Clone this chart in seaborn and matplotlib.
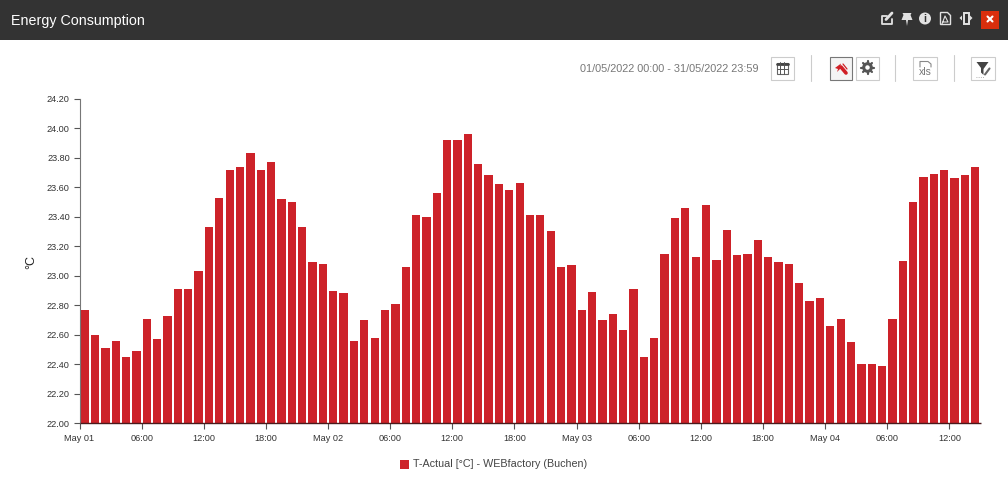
import matplotlib
matplotlib.use('Agg')
import matplotlib.pyplot as plt
from matplotlib.patches import Rectangle, Circle, Polygon
import numpy as np
import seaborn as sns

temps = [22.77, 22.60, 22.51, 22.56, 22.45, 22.49, 22.71, 22.57, 22.73, 22.91, 22.91, 23.03,
         23.33, 23.53, 23.72, 23.74, 23.83, 23.72, 23.77, 23.52, 23.50, 23.33, 23.09, 23.08,
         22.90, 22.88, 22.56, 22.70, 22.58, 22.77, 22.81, 23.06, 23.41, 23.40, 23.56, 23.92,
         23.92, 23.96, 23.76, 23.68, 23.62, 23.58, 23.63, 23.41, 23.41, 23.30, 23.06, 23.07,
         22.77, 22.89, 22.70, 22.74, 22.63, 22.91, 22.45, 22.58, 23.15, 23.39, 23.46, 23.13,
         23.48, 23.11, 23.31, 23.14, 23.15, 23.24, 23.13, 23.09, 23.08, 22.95, 22.83, 22.85,
         22.66, 22.71, 22.55, 22.40, 22.40, 22.39, 22.71, 23.10, 23.50, 23.67, 23.69, 23.72,
         23.66, 23.68, 23.74]
tick_hours = [0, 6, 12, 18, 24, 30, 36, 42, 48, 54, 60, 66, 72, 78, 84]
tick_labels = ['May 01', '06:00', '12:00', '18:00', 'May 02', '06:00', '12:00', '18:00',
               'May 03', '06:00', '12:00', '18:00', 'May 04', '06:00', '12:00']
y_ticks = [22.0, 22.2, 22.4, 22.6, 22.8, 23.0, 23.2, 23.4, 23.6, 23.8, 24.0, 24.2]
series_name = 'T-Actual [°C] - WEBfactory (Buchen)'
date_range = '01/05/2022 00:00 - 31/05/2022 23:59'

W, H = 1008, 480
RED = '#cd2229'
ICON = '#e2e2e2'
sns.set_theme(style='white')
plt.rcParams['font.family'] = ['Liberation Sans', 'DejaVu Sans']

fig = plt.figure(figsize=(W / 100, H / 100), dpi=100, facecolor='white')
ax = fig.add_axes([79.5 / W, 1 - 423.3 / H, 901 / W, 324.6 / H])

hours = np.arange(len(temps)) + 0.5
sns.barplot(x=hours, y=temps, native_scale=True, width=0.8, color=RED, saturation=1,
            linewidth=0, ax=ax)
ax.set_xlim(0, 87)
ax.set_ylim(22, 24.2)
ax.set_xticks(tick_hours)
ax.set_xticklabels(tick_labels)
ax.set_yticks(y_ticks)
ax.set_yticklabels(['%.2f' % v for v in y_ticks])
ax.tick_params(axis='both', labelsize=6.6, length=4, width=0.8, color='#555555',
               labelcolor='#333333', pad=3, bottom=True, left=True)
ax.tick_params(axis='x', pad=3.5)
ax.set_ylabel('°C', fontsize=9, color='#222222')
ax.yaxis.set_label_coords(-0.047, 0.497)
for side in ['top', 'right']:
    ax.spines[side].set_visible(False)
ax.spines['left'].set_color('#777777')
ax.spines['left'].set_linewidth(0.8)
ax.spines['bottom'].set_color('#4a1a1c')
ax.spines['bottom'].set_linewidth(1.0)
ax.spines['bottom'].set_capstyle('butt')

# page furniture, drawn in pixel coordinates
ui = fig.add_axes([0, 0, 1, 1], zorder=5)
ui.set_xlim(0, W)
ui.set_ylim(H, 0)
ui.axis('off')
ui.patch.set_alpha(0)

ui.add_patch(Rectangle((0, 0), W, 40, color='#333333', lw=0))
ui.text(11, 20.5, 'Energy Consumption', color='white', fontsize=10.3, va='center')
ui.add_patch(Rectangle((981, 11), 18, 18, color='#d92e0d', lw=0))
ui.plot([987.5, 992.5], [16.5, 21.5], color='white', lw=1.5)
ui.plot([987.5, 992.5], [21.5, 16.5], color='white', lw=1.5)

# header icons
ui.plot([887, 881.5, 881.5, 891.5, 891.5], [15.5, 15.5, 23.5, 23.5, 19], color=ICON, lw=1.3)
ui.plot([886, 892], [19.5, 13], color=ICON, lw=2)
ui.add_patch(Polygon([(902.5, 13), (911.5, 13), (910.5, 15), (912.5, 20), (908, 20), (907, 26),
                      (906, 20), (901.5, 20), (903.5, 15)], color=ICON, lw=0))
ui.add_patch(Circle((925, 18.5), 6, color=ICON, lw=0))
ui.text(925, 18.8, 'i', color='#333333', fontsize=7.5, fontweight='bold', ha='center', va='center')
ui.add_patch(Polygon([(940.5, 12.5), (947.5, 12.5), (950.5, 15.5), (950.5, 24.5), (940.5, 24.5)],
                     fill=False, edgecolor=ICON, lw=1.0))
ui.plot([942, 945, 948, 943], [24, 16, 22, 22], color=ICON, lw=0.8)
ui.add_patch(Rectangle((963.5, 12.5), 5, 11, fill=False, edgecolor=ICON, lw=1.4))
ui.add_patch(Polygon([(962, 15.5), (962, 20.5), (959.5, 18)], color=ICON, lw=0))
ui.add_patch(Polygon([(970, 15.5), (970, 20.5), (972.5, 18)], color=ICON, lw=0))

# toolbar
ui.text(759, 68.5, date_range, color='#777777', fontsize=7.8, ha='right', va='center')
for x0, wd, edge, face in [(771, 23, '#cccccc', 'white'), (830, 22, '#777777', '#f4f4f4'),
                           (856, 23, '#cccccc', 'white'), (913, 24, '#cccccc', 'white'),
                           (971, 24, '#cccccc', 'white')]:
    ui.add_patch(Rectangle((x0, 57), wd, 23, facecolor=face, edgecolor=edge, lw=0.8))
for x0 in [811, 895, 954]:
    ui.plot([x0, x0], [55, 81], color='#cccccc', lw=0.8)
# calendar
ui.add_patch(Rectangle((776.5, 63), 11, 11, fill=False, edgecolor='#666666', lw=0.8))
ui.plot([776.5, 787.5], [64, 64], color='#444444', lw=2)
for v in [780, 784]:
    ui.plot([v, v], [61.5, 74], color='#555555', lw=0.7)
ui.plot([776.5, 787.5], [68.5, 68.5], color='#555555', lw=0.7)
# plug
ui.add_patch(Polygon([(835, 68), (841, 63.5), (840, 67), (842, 67), (837, 72), (838, 69)],
                     color='#d01f25', lw=0))
ui.plot([841, 846], [67, 73], color='#d01f25', lw=2.6)
ui.plot([843, 847], [64, 69], color='#d01f25', lw=0.9)
# gear
ui.add_patch(Circle((867.5, 67.5), 3.8, facecolor='white', edgecolor='#555555', lw=2.2))
for a in np.arange(0, 360, 45):
    c, s = np.cos(np.radians(a)), np.sin(np.radians(a))
    ui.plot([867.5 + 4 * c, 867.5 + 6.3 * c], [67.5 + 4 * s, 67.5 + 6.3 * s], color='#555555', lw=1.6)
# xls
ui.plot([920, 920, 928, 931, 931], [67, 61.5, 61.5, 64, 67], color='#888888', lw=0.8)
ui.text(925.3, 72, 'xls', color='#777777', fontsize=7.5, ha='center', va='center')
# filter
ui.add_patch(Polygon([(976.5, 62), (988.5, 62), (983.5, 69), (983.5, 75), (981, 72.5), (981, 68)],
                     color='#444444', lw=0))
ui.plot([985, 989.5], [74.5, 68.5], color='#666666', lw=1.5)
ui.plot([976, 984], [77, 77], color='#999999', lw=0.6, ls=':')

# legend
ui.add_patch(Rectangle((400, 460), 9, 9, color=RED, lw=0))
ui.text(413, 464, series_name, color='#444444', fontsize=7.75, va='center')

fig.savefig('out.png', dpi=100)
